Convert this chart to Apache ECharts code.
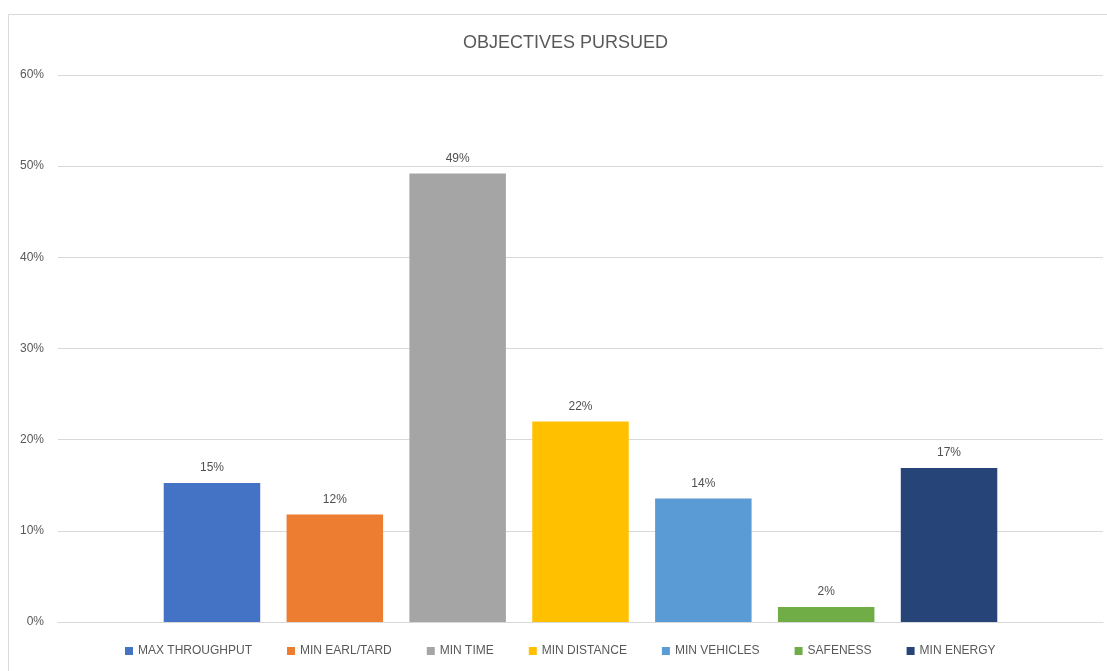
<!DOCTYPE html>
<html>
<head>
<meta charset="utf-8">
<script src="https://cdn.jsdelivr.net/npm/echarts@6/dist/echarts.min.js"></script>
<style>
html,body{margin:0;padding:0;background:#fff;}
#chart{width:1107px;height:671px;}
</style>
</head>
<body>
<div id="chart"></div>
<script>
const categories = ['Objectives'];
const seriesNames = ['MAX THROUGHPUT','MIN EARL/TARD','MIN TIME','MIN DISTANCE','MIN VEHICLES','SAFENESS','MIN ENERGY'];
const seriesValues = [15.25, 11.8, 49.2, 22.0, 13.55, 1.65, 16.9];
const seriesColors = ['#4472C4','#ED7D31','#A5A5A5','#FFC000','#5B9BD5','#70AD47','#264478'];
const yTicks = [0, 10, 20, 30, 40, 50, 60];

const chart = echarts.init(document.getElementById('chart'));
const font = 'Liberation Sans, Arial, sans-serif';
chart.setOption({
  animation: false,
  backgroundColor: '#fff',
  textStyle: { fontFamily: font },
  graphic: [{
    type: 'rect', silent: true,
    shape: { x: 8.5, y: 14.5, width: 1200, height: 700 },
    style: { fill: 'none', stroke: '#d9d9d9', lineWidth: 1 }
  }],
  title: {
    text: 'OBJECTIVES PURSUED',
    left: 463, top: 34, padding: 0,
    textStyle: { fontSize: 18, fontWeight: 'normal', color: '#595959', fontFamily: font }
  },
  legend: {
    data: seriesNames,
    left: 125, top: 645, padding: 0,
    itemWidth: 8, itemHeight: 8, itemGap: 35,
    icon: 'rect',
    textStyle: { fontSize: 12, color: '#595959', fontFamily: font }
  },
  grid: { left: 58, right: 4, top: 75, bottom: 49 },
  xAxis: {
    type: 'category', data: categories,
    axisLine: { lineStyle: { color: '#d9d9d9' } },
    axisTick: { show: false },
    axisLabel: { show: false }
  },
  yAxis: {
    type: 'value', min: yTicks[0], max: yTicks[yTicks.length - 1], interval: 10,
    axisLine: { show: false }, axisTick: { show: false },
    splitLine: { lineStyle: { color: '#d9d9d9' } },
    axisLabel: { formatter: '{value}%', color: '#595959', fontSize: 12, margin: 14, fontFamily: font }
  },
  series: seriesNames.map((name, i) => ({
    name: name,
    type: 'bar',
    data: [seriesValues[i]],
    barWidth: 96.5,
    barGap: '27.3%',
    itemStyle: { color: seriesColors[i] },
    label: {
      show: true, position: 'top', distance: 9,
      color: '#505050', fontSize: 12, fontFamily: font,
      formatter: p => Math.round(p.value) + '%'
    }
  }))
});
</script>
</body>
</html>
